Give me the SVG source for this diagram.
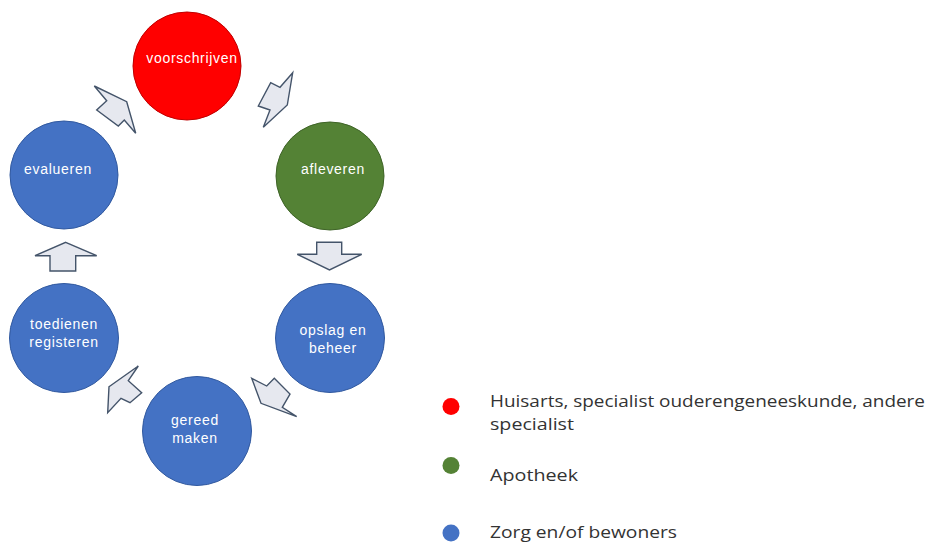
<svg xmlns="http://www.w3.org/2000/svg" width="926" height="543" viewBox="0 0 926 543">
<style>
.red{fill:#ff0000;stroke:#c00000;stroke-width:1}
.green{fill:#548235;stroke:#3f6428;stroke-width:1}
.blue{fill:#4472c4;stroke:#31599f;stroke-width:1}
.lbl{font-family:"Liberation Sans",Arial,sans-serif;font-size:14px;fill:#ffffff;text-anchor:middle;letter-spacing:0.7px}
.arrow{fill:#e6e8ef;stroke:#44546a;stroke-width:1.4;stroke-linejoin:miter}
.leg{font-family:"Open Sans","Liberation Sans",sans-serif;font-size:17px;fill:#333333}
</style>
<rect width="926" height="543" fill="#ffffff"/>
<g id="connectors">
<polygon class="arrow" points="94.3,86 126.7,101.7 135.7,133.3 124.3,120 118.3,126 96.7,110 106.7,100.7"/>
<polygon class="arrow" points="292.7,72.7 280,87.3 270.7,82.7 258.3,106 270,110 263.3,127.3 287.3,105"/>
<polygon class="arrow" points="316.7,242.3 341.7,242.3 341.7,254.3 361.7,254.3 329.5,270 297.3,254.3 316.7,254.3"/>
<polygon class="arrow" points="251.7,378.3 266.7,386 274.3,378.3 290,394 282.3,407.3 296.7,416.7 261,403.3"/>
<polygon class="arrow" points="109,386.7 138.3,366 128.3,380.7 141.7,392.7 130,402.7 121,398.3 107.7,412.7"/>
<polygon class="arrow" points="65.7,242.3 96.7,255.7 75.7,255.7 75.7,271 50,271 50,255.7 35,255.7"/>
</g>
<g id="node-voorschrijven">
<circle class="red" cx="187" cy="66" r="54"/>
<text class="lbl" x="192" y="63">voorschrijven</text>
</g>
<g id="node-afleveren">
<circle class="green" cx="330" cy="176" r="54"/>
<text class="lbl" x="333" y="174">afleveren</text>
</g>
<g id="node-opslag">
<circle class="blue" cx="330" cy="338" r="54.5"/>
<text class="lbl" x="333" y="335">opslag en</text>
<text class="lbl" x="333" y="353">beheer</text>
</g>
<g id="node-gereed">
<circle class="blue" cx="197" cy="431" r="54.5"/>
<text class="lbl" x="195" y="425">gereed</text>
<text class="lbl" x="195" y="443">maken</text>
</g>
<g id="node-toedienen">
<circle class="blue" cx="64" cy="338" r="54.5"/>
<text class="lbl" x="64" y="329">toedienen</text>
<text class="lbl" x="64" y="347">registeren</text>
</g>
<g id="node-evalueren">
<circle class="blue" cx="64" cy="175" r="54"/>
<text class="lbl" x="58" y="174">evalueren</text>
</g>
<g id="legend">
<ellipse cx="451" cy="406.5" rx="8.5" ry="8.5" fill="#ff0000"/>
<text class="leg" x="490" y="407" textLength="435" lengthAdjust="spacingAndGlyphs">Huisarts, specialist ouderengeneeskunde, andere</text>
<text class="leg" x="490" y="430" textLength="84" lengthAdjust="spacingAndGlyphs">specialist</text>
<ellipse cx="451" cy="465.5" rx="8.5" ry="8.5" fill="#548235"/>
<text class="leg" x="490" y="481" textLength="88" lengthAdjust="spacingAndGlyphs">Apotheek</text>
<ellipse cx="451" cy="533" rx="8.5" ry="8.5" fill="#4472c4"/>
<text class="leg" x="490" y="538" textLength="187" lengthAdjust="spacingAndGlyphs">Zorg en/of bewoners</text>
</g>
</svg>
